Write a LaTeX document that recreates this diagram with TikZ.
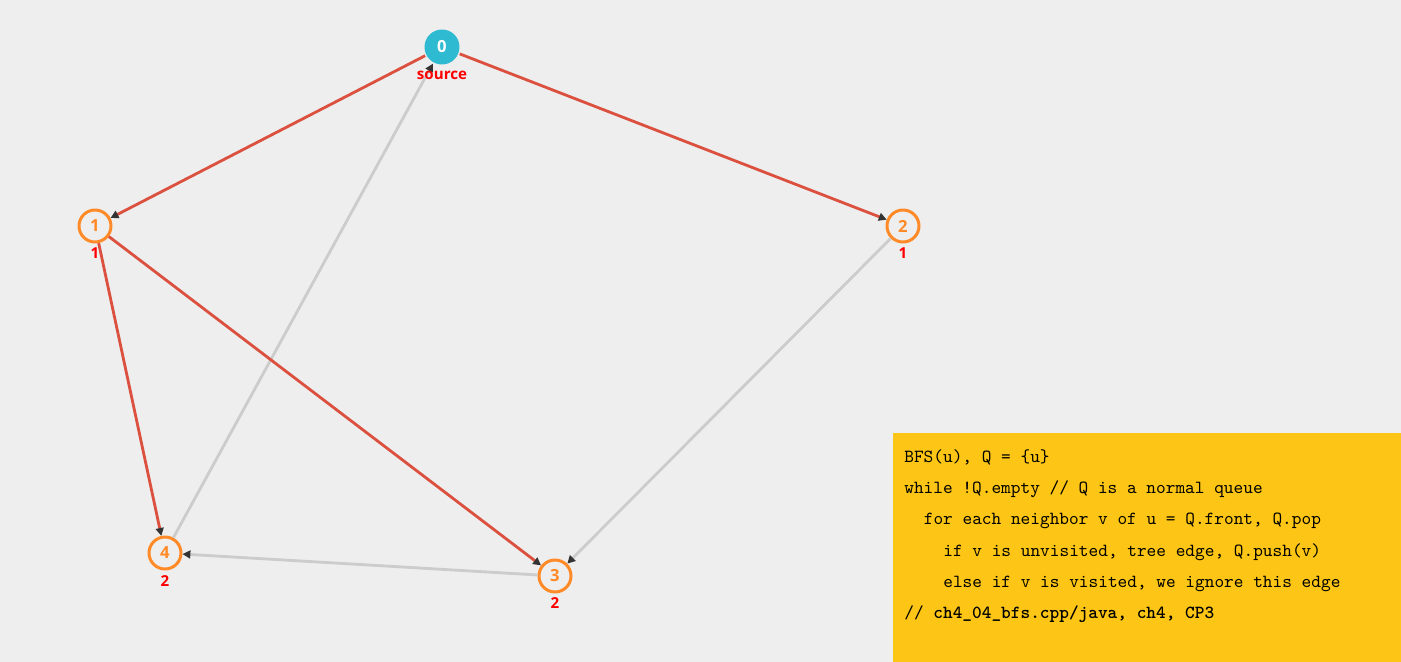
\documentclass[tikz,border=0pt]{standalone}
\usepackage{fontspec}
\setmainfont{Open Sans}
\usetikzlibrary{arrows.meta}
\definecolor{bgcol}{HTML}{EEEEEE}
\definecolor{vorange}{HTML}{FF8A27}
\definecolor{vteal}{HTML}{2EBAD1}
\definecolor{ered}{HTML}{DB503E}
\definecolor{egray}{HTML}{CCCCCC}
\definecolor{tipcol}{HTML}{333333}
\definecolor{boxcol}{HTML}{FDC515}
\tikzset{
  vtx/.style={circle, draw=vorange, line width=1.7pt, fill=bgcol, minimum size=0.64cm,
    inner sep=0pt, text=vorange, font=\bfseries\fontsize{9.5}{9.5}\selectfont},
  src/.style={vtx, draw=none, fill=vteal, text=white, minimum size=0.7cm},
  dist/.style={text=red, inner sep=0pt, font=\bfseries\fontsize{8.6}{8.6}\selectfont},
  tree/.style={draw=ered, line width=1.6pt, -{Triangle[length=4.5pt,width=4.5pt,color=tipcol]}},
  nontree/.style={draw=egray, line width=1.6pt, -{Triangle[length=4.5pt,width=4.5pt,color=tipcol]}},
  codeline/.style={anchor=base west, inner sep=0pt, font=\ttfamily\fontsize{10.5}{12}\selectfont}
}
\begin{document}
\begin{tikzpicture}[x=0.02cm, y=-0.02cm]
  % background and pseudo code box
  \fill[bgcol] (0,0) rectangle (1401,662);
  \useasboundingbox (0,0) rectangle (1401,662);
  \fill[boxcol] (893,433) rectangle (1401,662);

  % vertices
  \node[src] (v0) at (442,47) {0};
  \node[vtx] (v1) at (95,226) {1};
  \node[vtx] (v2) at (903,226) {2};
  \node[vtx] (v3) at (555,576) {3};
  \node[vtx] (v4) at (165,553) {4};

  % edges
  \draw[nontree] (v4) -- (v0);
  \draw[nontree] (v2) -- (v3);
  \draw[nontree] (v3) -- (v4);
  \draw[tree] (v0) -- (v1);
  \draw[tree] (v0) -- (v2);
  \draw[tree] (v1) -- (v4);
  \draw[tree] (v1) -- (v3);

  % distances
  \node[dist] (d0) at (442,75) {source};
  \node[dist] (d1) at (95,253) {1};
  \node[dist] (d2) at (903,253) {1};
  \node[dist] (d3) at (555,603) {2};
  \node[dist] (d4) at (165,581) {2};

  % pseudo code
  \node[codeline] (c1) at (904,462.3) {BFS(u), Q = \{u\}};
  \node[codeline] (c2) at (904,493.6) {while !Q.empty // Q is a normal queue};
  \node[codeline] (c3) at (923.5,524.9) {for each neighbor v of u = Q.front, Q.pop};
  \node[codeline] (c4) at (943,556.2) {if v is unvisited, tree edge, Q.push(v)};
  \node[codeline] (c5) at (943,587.5) {else if v is visited, we ignore this edge};
  \node[codeline] (c6) at (904,618.8) {// \textbf{ch4\_04\_bfs.cpp/java, ch4, CP3}};
\end{tikzpicture}
\end{document}
